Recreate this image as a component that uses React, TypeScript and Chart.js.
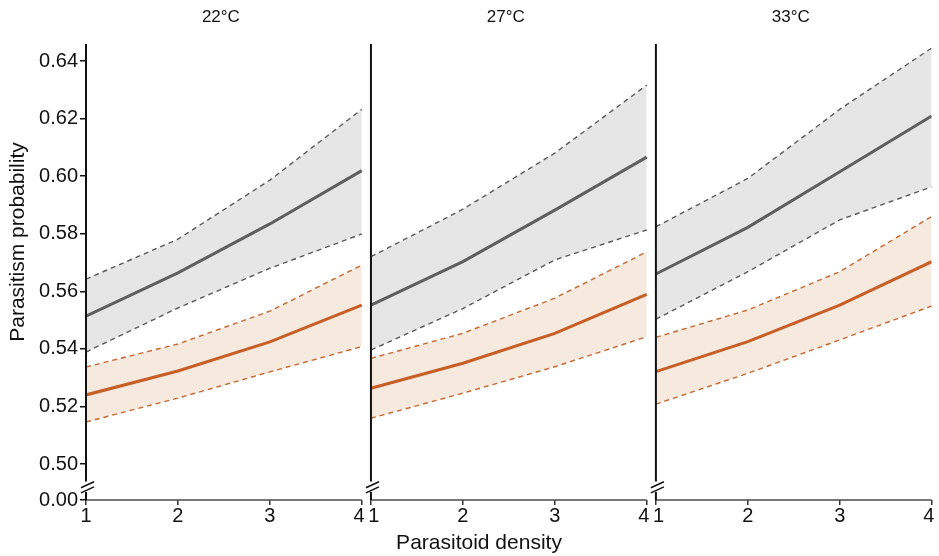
import React, { useEffect, useRef } from "react";
import { Chart, registerables } from "chart.js";

Chart.register(...registerables);

// ---- data ----
const density = [1, 2, 3, 4];
const temps = ["22°C", "27°C", "33°C"];

// grey group
const greyMean22 = [0.5514, 0.5664, 0.5834, 0.6019];
const greyHigh22 = [0.5642, 0.5781, 0.5986, 0.6232];
const greyLow22 = [0.5389, 0.5542, 0.568, 0.5799];
const greyMean27 = [0.5552, 0.5703, 0.5882, 0.6066];
const greyHigh27 = [0.572, 0.5885, 0.608, 0.6316];
const greyLow27 = [0.5396, 0.554, 0.5709, 0.5813];
const greyMean33 = [0.566, 0.5822, 0.6015, 0.6209];
const greyHigh33 = [0.5824, 0.5992, 0.6232, 0.6445];
const greyLow33 = [0.5503, 0.5668, 0.5848, 0.5963];

// orange group
const orangeMean22 = [0.524, 0.5323, 0.5424, 0.5552];
const orangeHigh22 = [0.5337, 0.5417, 0.5531, 0.5691];
const orangeLow22 = [0.5146, 0.5229, 0.532, 0.5408];
const orangeMean27 = [0.5263, 0.535, 0.5454, 0.5589];
const orangeHigh27 = [0.5367, 0.5454, 0.5576, 0.5737];
const orangeLow27 = [0.5159, 0.5246, 0.5338, 0.5442];
const orangeMean33 = [0.5321, 0.5425, 0.5552, 0.5703];
const orangeHigh33 = [0.544, 0.5535, 0.5668, 0.586];
const orangeLow33 = [0.5208, 0.5315, 0.5431, 0.5549];

// y ticks (plus the broken-axis "0.00" position)
const yTickValues = [0.5, 0.52, 0.54, 0.56, 0.58, 0.6, 0.62, 0.64];
const yZeroPos = 0.4875; // where the "0.00" label sits after the axis break
const yTop = 0.6459;

const PANEL_STEP = 3.1;
const FONT = "'Liberation Sans', Arial, Helvetica, sans-serif";

const groups = [
  { mean: [greyMean22, greyMean27, greyMean33], high: [greyHigh22, greyHigh27, greyHigh33], low: [greyLow22, greyLow27, greyLow33], line: "#5f5f5f", dash: "#5a5a5a", fill: "#e6e6e6" },
  { mean: [orangeMean22, orangeMean27, orangeMean33], high: [orangeHigh22, orangeHigh27, orangeHigh33], low: [orangeLow22, orangeLow27, orangeLow33], line: "#c65e26", dash: "#c86631", fill: "#f6e9de" },
];

function pts(p: number, vals: number[]) {
  return density.map((d, i) => ({ x: d + p * PANEL_STEP, y: vals[i] }));
}

export default function App() {
  const ref = useRef<HTMLCanvasElement | null>(null);

  useEffect(() => {
    document.body.style.margin = "0";
    const datasets: any[] = [];
    groups.forEach((g) => {
      temps.forEach((_, p) => {
        datasets.push({
          data: pts(p, g.low[p]),
          borderColor: g.dash,
          borderWidth: 1.4,
          borderDash: [5, 4],
          pointRadius: 0,
          tension: 0,
          fill: false,
        });
        datasets.push({
          data: pts(p, g.high[p]),
          borderColor: g.dash,
          borderWidth: 1.4,
          borderDash: [5, 4],
          pointRadius: 0,
          tension: 0,
          fill: "-1",
          backgroundColor: g.fill,
        });
        datasets.push({
          data: pts(p, g.mean[p]),
          borderColor: g.line,
          borderWidth: 3,
          pointRadius: 0,
          tension: 0,
          fill: false,
        });
      });
    });

    const decor = {
      id: "decor",
      afterDatasetsDraw(chart: any) {
        const { ctx, chartArea, scales } = chart;
        const xs = scales.x;
        const ys = scales.y;
        const line = (a: number, b: number, c: number, d: number) => {
          ctx.beginPath();
          ctx.moveTo(a, b);
          ctx.lineTo(c, d);
          ctx.stroke();
        };
        ctx.save();
        const breakHi = ys.getPixelForValue(0.4939);
        const breakLo = ys.getPixelForValue(0.4903);
        temps.forEach((t, p) => {
          const x0 = xs.getPixelForValue(density[0] + p * PANEL_STEP);
          const x1 = xs.getPixelForValue(density[density.length - 1] + p * PANEL_STEP);
          // x axis segment
          ctx.strokeStyle = "#4a4a4a";
          ctx.lineWidth = 1.7;
          line(x0, chartArea.bottom, x1, chartArea.bottom);
          // vertical axis with break
          ctx.strokeStyle = "#111";
          ctx.lineWidth = 2;
          line(x0, chartArea.top, x0, breakHi);
          line(x0, breakLo, x0, chartArea.bottom);
          // break marks
          ctx.lineWidth = 1.5;
          const m1 = ys.getPixelForValue(0.4928);
          const m2 = ys.getPixelForValue(0.491);
          line(x0 - 5, m1 + 3, x0 + 8, m1 - 3);
          line(x0 - 5, m2 + 3, x0 + 8, m2 - 3);
          // panel title
          ctx.fillStyle = "#111";
          ctx.font = `17px ${FONT}`;
          ctx.textAlign = "center";
          ctx.textBaseline = "middle";
          ctx.fillText(t, (x0 + x1) / 2 - 3, 17);
        });
        // axis titles
        ctx.fillStyle = "#111";
        ctx.font = `21px ${FONT}`;
        ctx.textAlign = "center";
        ctx.textBaseline = "middle";
        ctx.fillText("Parasitoid density", 479, 543);
        ctx.translate(18, 242);
        ctx.rotate(-Math.PI / 2);
        ctx.fillText("Parasitism probability", 0, 0);
        ctx.restore();
      },
    };

    const xTickVals: number[] = [];
    temps.forEach((_, p) => density.forEach((d) => xTickVals.push(d + p * PANEL_STEP)));

    const chart = new Chart(ref.current as HTMLCanvasElement, {
      type: "line",
      data: { datasets },
      options: {
        responsive: false,
        animation: false,
        events: [],
        layout: { padding: { top: 44, right: 5, left: 0, bottom: 0 } },
        plugins: {
          legend: { display: false },
          tooltip: { enabled: false },
          filler: { drawTime: "beforeDatasetsDraw" },
        } as any,
        scales: {
          x: {
            type: "linear",
            min: density[0],
            max: density[density.length - 1] + 2 * PANEL_STEP,
            border: { display: false },
            grid: { drawOnChartArea: false, drawTicks: true, tickLength: 5, color: "#333", lineWidth: 1.5 },
            afterBuildTicks: (s: any) => {
              s.ticks = xTickVals.map((v) => ({ value: v }));
            },
            afterFit: (s: any) => {
              s.height = 56;
            },
            ticks: {
              autoSkip: false,
              maxRotation: 0,
              padding: -1,
              color: "#111",
              font: { family: FONT, size: 20 },
              callback: (_v: any, i: number) => {
                const d = density[i % density.length];
                if (i % density.length === density.length - 1) return d + " ";
                if (i % density.length === 0 && i > 0) return " " + d;
                return String(d);
              },
            },
          },
          y: {
            type: "linear",
            min: yZeroPos,
            max: yTop,
            border: { display: false },
            grid: { drawOnChartArea: false, drawTicks: true, tickLength: 6, color: "#111", lineWidth: 1.5 },
            afterBuildTicks: (s: any) => {
              s.ticks = [yZeroPos, ...yTickValues].map((v) => ({ value: v }));
            },
            afterFit: (s: any) => {
              s.width = 86;
            },
            ticks: {
              padding: 2,
              color: "#111",
              font: { family: FONT, size: 20 },
              callback: (v: any) => (Number(v) < 0.49 ? "0.00" : Number(v).toFixed(2)),
            },
          },
        },
      } as any,
      plugins: [decor],
    });
    return () => chart.destroy();
  }, []);

  return <canvas ref={ref} width={939} height={556} style={{ display: "block" }} />;
}
